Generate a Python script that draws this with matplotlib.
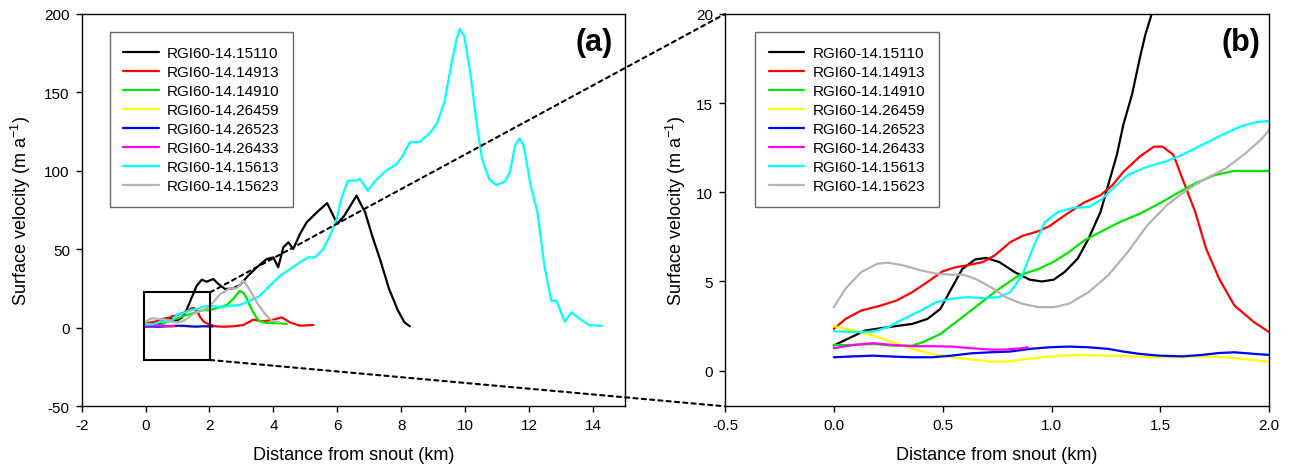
import matplotlib
matplotlib.use("Agg")
import matplotlib.pyplot as plt
from matplotlib.patches import Rectangle, ConnectionPatch

plt.rcParams['font.family'] = ['Liberation Sans', 'DejaVu Sans']
plt.rcParams['mathtext.default'] = 'regular'
plt.rcParams['axes.unicode_minus'] = False

labels = ["RGI60-14.15110", "RGI60-14.14913", "RGI60-14.14910", "RGI60-14.26459",
          "RGI60-14.26523", "RGI60-14.26433", "RGI60-14.15613", "RGI60-14.15623"]
colors = ["#000000", "#ff0000", "#00e600", "#ffff00", "#0000ff", "#ff00ff", "#00ffff", "#b4b4ac"]

black_x = [0, .144, .25, .36, .43, .49, .54, .59, .65, .70, .76, .83, .90, .955, 1.01, 1.06, 1.12, 1.17,
           1.225, 1.26, 1.30, 1.33, 1.37, 1.405, 1.43, 1.46, 1.6, 1.76, 1.91, 2.12, 2.28, 2.49, 2.74, 2.95,
           3.21, 3.48, 3.79, 4.0, 4.15, 4.31, 4.47, 4.62, 4.83, 5.04, 5.36, 5.68, 6.0, 6.22, 6.6, 6.87,
           7.09, 7.35, 7.62, 7.9, 8.1, 8.27]
black_y = [1.41, 2.25, 2.44, 2.62, 2.9, 3.47, 4.6, 5.7, 6.24, 6.32, 6.09, 5.53, 5.1, 5.0, 5.1, 5.53, 6.28, 7.4,
           8.9, 10.4, 12.1, 13.8, 15.5, 17.5, 18.8, 20.0, 26.8, 30.7, 29.4, 31.1, 27.9, 24.7, 25.2, 27.3,
           33.2, 38.6, 43.8, 44.9, 38.6, 51.3, 54.5, 50.2, 59.8, 67.2, 73.6, 79.5, 66.2, 71.5, 84.2, 73.6,
           58.7, 42.8, 24.7, 10.9, 3.5, 1.0]

red_x = [0, .054, .126, .216, .29, .36, .43, .50, .56, .61, .685, .74, .81, .865, .94, .99, 1.06, 1.15, 1.225,
         1.28, 1.33, 1.405, 1.47, 1.51, 1.56, 1.60, 1.66, 1.71, 1.77, 1.84, 1.93, 2.0, 2.17, 2.45, 2.74, 3.06,
         3.37, 3.68, 4.0, 4.26, 4.52, 4.83, 5.25]
red_y = [2.34, 2.9, 3.37, 3.65, 3.94, 4.4, 4.97, 5.57, 5.8, 5.9, 6.09, 6.47, 7.2, 7.55, 7.82, 8.1, 8.7, 9.43, 9.84,
         10.4, 11.15, 12.0, 12.56, 12.56, 12.1, 10.8, 8.9, 6.84, 5.15, 3.65, 2.72, 2.16, 1.0, 0.7, 1.0, 1.8,
         5.2, 4.1, 5.2, 6.7, 3.5, 1.35, 1.8]

green_x = [0, .09, .18, .27, .36, .41, .49, .58, .67, .76, .85, .94, 1.01, 1.08, 1.15, 1.225, 1.315, 1.405,
           1.495, 1.585, 1.66, 1.75, 1.84, 1.93, 2.0, 2.25, 2.54, 2.75, 2.94, 3.05, 3.16, 3.27, 3.37, 3.53,
           3.79, 4.1, 4.42]
green_y = [1.44, 1.44, 1.5, 1.4, 1.4, 1.6, 2.06, 2.9, 3.75, 4.6, 5.34, 5.7, 6.1, 6.65, 7.3, 7.78, 8.34, 8.8,
           9.37, 10.0, 10.5, 10.97, 11.2, 11.2, 11.2, 12.8, 14.5, 18.5, 23.6, 22.5, 19.0, 14.0, 9.9, 4.5,
           3.1, 3.1, 2.4]

yellow_x = [0, .09, .18, .27, .36, .45, .54, .65, .72, .79, .865, .955, 1.045, 1.15, 1.26, 1.37, 1.48, 1.585,
            1.69, 1.80, 1.91, 2.0]
yellow_y = [2.5, 2.25, 1.97, 1.6, 1.22, .94, .75, .6, .5, .5, .62, .75, .84, .88, .84, .8, .75, .75,
            .8, .75, .62, .5]

blue_x = [0, .09, .18, .27, .36, .45, .54, .63, .72, .81, .90, .99, 1.08, 1.17, 1.26, 1.33, 1.405, 1.495,
          1.60, 1.69, 1.77, 1.84, 1.93, 2.0, 2.1]
blue_y = [.75, .8, .84, .79, .75, .75, .84, .97, 1.03, 1.07, 1.22, 1.31, 1.35, 1.31, 1.22, 1.07, .94, .84,
          .8, .88, .99, 1.03, .94, .88, .85]

magenta_x = [0, .09, .18, .27, .36, .45, .54, .63, .72, .79, .865, .89]
magenta_y = [1.26, 1.44, 1.54, 1.44, 1.37, 1.37, 1.35, 1.26, 1.18, 1.18, 1.26, 1.31]

cyan_x = [0, .09, .18, .25, .32, .40, .47, .54, .61, .685, .76, .81, .865, .92, .97, 1.03, 1.10, 1.17, 1.225,
          1.28, 1.35, 1.44, 1.53, 1.60, 1.69, 1.78, 1.87, 1.94, 2.0, 2.33, 2.64, 2.95, 3.27, 3.58, 3.89, 4.21,
          4.52, 4.83, 5.09, 5.3, 5.56, 5.77, 5.98, 6.12, 6.33, 6.54, 6.71, 6.95, 7.19, 7.52, 7.84, 8.05, 8.27,
          8.59, 8.92, 9.13, 9.35, 9.56, 9.73, 9.83, 9.97, 10.16, 10.37, 10.53, 10.75, 10.97, 11.24, 11.4,
          11.56, 11.7, 11.83, 12.05, 12.26, 12.48, 12.69, 12.86, 13.02, 13.12, 13.33, 13.6, 13.87, 14.28]
cyan_y = [2.21, 2.16, 2.19, 2.44, 2.9, 3.37, 3.84, 4.03, 4.12, 4.07, 4.12, 4.4, 5.34, 7.03, 8.34, 8.9, 9.13,
          9.18, 9.56, 10.2, 10.97, 11.43, 11.75, 12.1, 12.65, 13.2, 13.7, 13.93, 14.0, 13.0, 14.1, 14.5, 17.3,
          20.5, 26.8, 33.2, 37.5, 41.7, 44.9, 44.9, 50.2, 58.7, 69.3, 82.0, 93.8, 93.8, 94.8, 87.4, 93.8,
          100.1, 104.0, 109.7, 118.2, 118.6, 124.6, 131.0, 143.7, 167.0, 184.0, 190.4, 186.2, 162.8, 128.8,
          107.6, 94.8, 91.0, 93.1, 99.1, 116.1, 120.8, 116.1, 90.6, 73.6, 39.6, 17.3, 17.3, 8.8, 3.9, 9.9,
          5.6, 1.8, 1.3]

gray_x = [0, .054, .126, .20, .25, .32, .40, .47, .54, .595, .65, .72, .79, .865, .94, 1.01, 1.08, 1.17,
          1.26, 1.35, 1.44, 1.53, 1.62, 1.71, 1.80, 1.89, 1.96, 2.0, 2.15, 2.33, 2.64, 2.85, 3.06, 3.21, 3.48,
          3.74, 3.95, 4.2]
gray_y = [3.56, 4.6, 5.53, 6.0, 6.05, 5.9, 5.62, 5.44, 5.38, 5.38, 5.15, 4.69, 4.12, 3.75, 3.56, 3.56, 3.75,
          4.4, 5.34, 6.65, 8.15, 9.28, 10.12, 10.78, 11.34, 12.18, 12.93, 13.5, 17.0, 21.5, 25.2, 25.2, 30.0,
          25.8, 16.3, 8.8, 4.5, 3.5]

series_x = [black_x, red_x, green_x, yellow_x, blue_x, magenta_x, cyan_x, gray_x]
series_y = [black_y, red_y, green_y, yellow_y, blue_y, magenta_y, cyan_y, gray_y]

xticks_a = [-2, 0, 2, 4, 6, 8, 10, 12, 14]
yticks_a = [-50, 0, 50, 100, 150, 200]
xticks_b = [-0.5, 0.0, 0.5, 1.0, 1.5, 2.0]
yticks_b = [0, 5, 10, 15, 20]

fig = plt.figure(figsize=(12.92, 4.77), dpi=100)
ax1 = fig.add_axes([0.0632, 0.1461, 0.4205, 0.8225])
ax2 = fig.add_axes([0.5611, 0.1461, 0.4213, 0.8225])

for ax in (ax1, ax2):
    for xs, ys, c, lab in zip(series_x, series_y, colors, labels):
        ax.plot(xs, ys, color=c, lw=1.6, label=lab, solid_joinstyle='round', solid_capstyle='round')
    ax.tick_params(direction='out', length=4.5, width=1, labelsize=11, pad=4,
                   top=False, right=False)
    for s in ax.spines.values():
        s.set_linewidth(1.0)
    ax.set_xlabel("Distance from snout (km)", fontsize=13, labelpad=10)

ax1.set_ylabel("Surface velocity (m a$^{-1}$)", fontsize=13, labelpad=8)
ax2.set_ylabel("Surface velocity (m a$^{-1}$)", fontsize=13, labelpad=6)

ax1.set_xlim(-2, 15)
ax1.set_ylim(-50, 200)
ax1.set_xticks(xticks_a)
ax1.set_yticks(yticks_a)
ax2.set_xlim(-0.5, 2.0)
ax2.set_ylim(-2, 20)
ax2.set_xticks(xticks_b)
ax2.set_xticklabels([f"{v:.1f}" for v in xticks_b])
ax2.set_yticks(yticks_b)

leg_kw = dict(loc='upper left', fontsize=11, frameon=True, fancybox=False, edgecolor='#444444',
              handlelength=2.3, handletextpad=0.55, labelspacing=0.33, borderpad=0.9, borderaxespad=0)
l1 = ax1.legend(bbox_to_anchor=(0.0515, 0.953), **leg_kw)
l2 = ax2.legend(bbox_to_anchor=(0.056, 0.953), **leg_kw)
for l in (l1, l2):
    l.get_frame().set_linewidth(1.0)

ax1.text(0.978, 0.967, "(a)", transform=ax1.transAxes, ha='right', va='top', fontsize=22, fontweight='bold')
ax2.text(0.983, 0.967, "(b)", transform=ax2.transAxes, ha='right', va='top', fontsize=22, fontweight='bold')

# zoom box
rx0, rx1, ry0, ry1 = -0.05, 2.02, -20.5, 22.6
ax1.add_patch(Rectangle((rx0, ry0), rx1 - rx0, ry1 - ry0, fill=False, ec='black', lw=1.5, zorder=5))

for (xa, ya), (xb, yb) in [((rx1, ry1), (0, 1)), ((rx1, ry0), (0, 0))]:
    cp = ConnectionPatch(xyA=(xa, ya), coordsA=ax1.transData, xyB=(xb, yb), coordsB=ax2.transAxes,
                         linestyle=(0, (2, 2)), lw=1.5, color='black', zorder=10)
    fig.add_artist(cp)

fig.savefig("out.png", dpi=100)
